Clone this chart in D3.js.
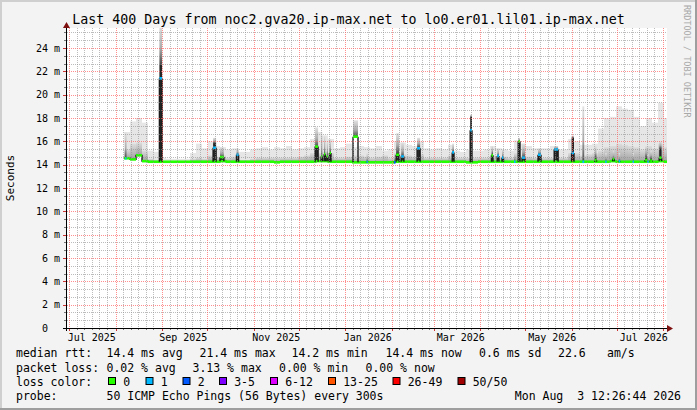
<!DOCTYPE html>
<html>
<head>
<meta charset="utf-8">
<script src="https://cdn.jsdelivr.net/npm/d3@7"></script>
<style>
  html, body { margin: 0; padding: 0; background: #f3f3f3; }
  svg { display: block; }
  text { font-family: "DejaVu Sans Mono", monospace; white-space: pre; }
</style>
</head>
<body>
<div id="chart"></div>
<script>
// ---- data ----
const periodStart = new Date(2025, 5, 29, 12, 26, 44);
const periodEnd = new Date(2026, 7, 3, 12, 26, 44);
const yMax = 25.714; // milliseconds

// regular samples: 4-day bins starting at day 38 of the period
const binStartDay = 38;
const binDays = 4;
const medianBase = [
  14.55, 14.45, 14.8, 14.3, 14.25, 14.25, 14.25, 14.25, 14.25, 14.25,
  14.25, 14.25, 14.25, 14.25, 14.25, 14.25, 14.3, 14.25, 14.25, 14.25,
  14.25, 14.25, 14.25, 14.25, 14.25, 14.2, 14.25, 14.25, 14.25, 14.25,
  14.25, 14.25, 14.3, 14.3, 14.25, 14.25, 14.25, 14.25, 14.2, 14.2,
  14.2, 14.2, 14.2, 14.2, 14.2, 14.25, 14.25, 14.25, 14.25, 14.25,
  14.25, 14.25, 14.25, 14.25, 14.25, 14.25, 14.25, 14.2, 14.2, 14.25,
  14.25, 14.25, 14.25, 14.25, 14.25, 14.25, 14.25, 14.25, 14.25, 14.25,
  14.25, 14.25, 14.25, 14.25, 14.25, 14.25, 14.25, 14.25, 14.25, 14.25,
  14.25, 14.3, 14.25, 14.25, 14.25, 14.25, 14.25, 14.25, 14.25, 14.3,
  14.25
];
const smokeTop = [
  16.8, 17.7, 18.0, 17.6, 15.2, 15.1, 14.6, 14.5, 14.5, 14.5,
  14.5, 15.0, 15.8, 15.4, 16.0, 15.6, 15.5, 15.3, 15.4, 15.1,
  15.1, 15.3, 15.4, 15.5, 15.3, 15.5, 15.4, 15.6, 15.3, 15.4,
  15.5, 16.2, 16.8, 16.5, 16.2, 15.4, 15.5, 15.8, 15.5, 15.6,
  15.5, 15.4, 15.6, 15.2, 15.3, 16.0, 15.9, 15.7, 15.6, 16.0,
  15.4, 15.3, 15.4, 15.3, 15.7, 15.2, 15.1, 15.3, 15.2, 15.2,
  15.3, 15.6, 15.4, 15.3, 15.2, 16.1, 15.8, 15.6, 15.4, 15.4,
  15.4, 15.6, 15.3, 15.3, 16.2, 16.0, 15.7, 15.7, 15.8, 17.1,
  18.0, 18.1, 19.0, 18.8, 18.7, 18.1, 17.3, 18.0, 17.6, 19.3,
  18.0
];
const smokeMid = [
  15.3, 15.8, 15.9, 15.2, 14.5, 14.4, 14.3, 14.3, 14.3, 14.3,
  14.3, 14.5, 14.6, 14.5, 14.8, 14.7, 14.8, 14.6, 14.7, 14.4,
  14.4, 14.5, 14.6, 14.6, 14.6, 14.6, 14.6, 14.6, 14.6, 14.7,
  14.8, 15.0, 15.0, 15.1, 15.0, 14.6, 14.6, 14.7, 14.8, 14.8,
  14.7, 14.6, 14.7, 14.8, 14.6, 15.0, 14.9, 14.8, 14.7, 14.9,
  14.6, 14.6, 14.6, 14.6, 14.8, 14.6, 14.6, 14.6, 14.6, 14.6,
  14.6, 14.8, 14.7, 14.7, 14.6, 15.0, 14.8, 14.7, 14.6, 14.6,
  14.6, 14.6, 14.6, 14.6, 15.0, 15.0, 14.8, 14.9, 15.0, 15.2,
  15.5, 15.6, 15.8, 15.7, 15.6, 15.5, 15.3, 15.6, 15.4, 15.8,
  15.5
];

// short events (day offsets from period start)
const spikeFrom = [38.7, 61.6, 97.4, 102.0, 113.0, 165.4, 169.4, 171.4, 173.2, 175.0,
  190.7, 199.7, 218.0, 219.4, 222.8, 233.4, 256.8, 268.8, 283.0, 286.8,
  290.0, 298.0, 300.8, 303.4, 314.0, 324.8, 336.4, 343.6, 351.8, 358.8,
  363.8, 367.8, 377.0, 385.4, 386.8, 388.8, 394.8];
const spikeTo = [39.7, 63.4, 99.4, 104.6, 114.4, 167.4, 170.2, 172.2, 174.0, 176.0,
  194.0, 200.5, 219.0, 221.4, 224.6, 235.4, 258.0, 270.0, 284.0, 288.0,
  291.0, 299.0, 302.0, 305.4, 316.0, 327.4, 338.0, 344.8, 353.0, 359.8,
  364.8, 368.8, 378.0, 386.8, 387.8, 390.0, 396.4];
const spikeMedian = [14.55, 21.4, 15.45, 14.65, 14.85, 15.55, 14.7, 14.9, 14.7, 15.0,
  16.4, 14.25, 14.2, 14.85, 14.7, 15.4, 15.05, 16.95, 14.8, 14.75,
  14.6, 14.25, 16.0, 14.6, 14.85, 15.3, 15.0, 14.25, 14.4, 14.25,
  14.5, 14.3, 14.25, 14.4, 14.25, 14.35, 14.6];
const spikeLoss = [1, 1, 1, 0, 1, 0, 0, 0, 0, 0,
  0, 1, 2, 0, 1, 1, 1, 1, 0, 1,
  1, 1, 0, 1, 1, 1, 1, 1, 0, 1,
  0, 1, 1, 0, 1, 0, 0];
const spikeDark = [14.55, 22.6, 15.85, 14.65, 14.85, 15.55, 14.7, 14.9, 14.7, 15.0,
  14.25, 14.25, 14.2, 15.0, 14.7, 15.5, 15.1, 18.1, 14.9, 14.75,
  14.6, 14.25, 16.05, 14.6, 14.85, 15.35, 16.3, 14.25, 14.6, 14.25,
  14.5, 14.3, 14.25, 14.6, 14.25, 14.5, 15.4];
const spikeTop = [16.8, 26.0, 16.3, 15.5, 15.4, 17.2, 16.8, 16.5, 16.0, 16.2,
  17.8, 15.0, 15.0, 16.7, 15.9, 16.3, 15.8, 18.3, 15.6, 15.4,
  15.3, 15.0, 16.3, 15.8, 15.4, 15.6, 16.5, 19.0, 15.6, 15.0,
  15.2, 15.0, 15.0, 15.6, 14.9, 15.2, 16.0];

const monthLabels = ["Jul 2025", "Sep 2025", "Nov 2025", "Jan 2026", "Mar 2026", "May 2026", "Jul 2026"];
const monthLabelAt = ["2025-07-16", "2025-09-15", "2025-11-16", "2026-01-16", "2026-03-19", "2026-05-19", "2026-07-19"];
const yTicks = [0, 2, 4, 6, 8, 10, 12, 14, 16, 18, 20, 22, 24];
const yTickLabels = ["0  ", "2 m", "4 m", "6 m", "8 m", "10 m", "12 m", "14 m", "16 m", "18 m", "20 m", "22 m", "24 m"];

const lossLabels = ["0", "1", "2", "3-5", "6-12", "13-25", "26-49", "50/50"];
const lossColors = ["#26ff00", "#00b8ff", "#0059ff", "#7e00ff", "#dd00ff", "#ff5500", "#ff0000", "#a10000"];

const rttValues = ["14.4 ms avg", "21.4 ms max", "14.2 ms min", "14.4 ms now", "0.6 ms sd", "22.6", "am/s"];
const lossValues = ["0.02 % avg", "3.13 % max", "0.00 % min", "0.00 % now"];
const probeText = "50 ICMP Echo Pings (56 Bytes) every 300s";
const stampText = "Mon Aug  3 12:26:44 2026";
const titleText = "Last 400 Days from noc2.gva20.ip-max.net to lo0.er01.lil01.ip-max.net";

// ---- layout ----
const W = 697, H = 410;
const plot = { left: 67, right: 667, top: 28, bottom: 328 };
const rttX = [106.5, 199.5, 291.5, 385.5, 479, 558, 607];
const lossX = [106.5, 192.5, 279, 365.5];
const boxX = [108, 145.5, 182.5, 219, 270, 328, 392.5, 457.5];

const DAY = 864e5;
const at = d => new Date(periodStart.getTime() + d * DAY);

const x = d3.scaleTime().domain([periodStart, periodEnd]).range([plot.left, plot.right]);
const y = d3.scaleLinear().domain([0, yMax]).range([plot.bottom, plot.top]);

const svg = d3.select("#chart").append("svg")
  .attr("width", W)
  .attr("height", H);

// background and 3d frame
svg.append("rect").attr("width", W).attr("height", H).attr("fill", "#f3f3f3");
svg.append("rect").attr("x", 0).attr("y", 0).attr("width", W).attr("height", 2).attr("fill", "#cfcfcf");
svg.append("rect").attr("x", 0).attr("y", 0).attr("width", 2).attr("height", H).attr("fill", "#cfcfcf");
svg.append("rect").attr("x", 0).attr("y", H - 2).attr("width", W).attr("height", 2).attr("fill", "#9e9e9e");
svg.append("rect").attr("x", W - 2).attr("y", 0).attr("width", 2).attr("height", H).attr("fill", "#9e9e9e");

svg.append("rect")
  .attr("x", plot.left).attr("y", plot.top)
  .attr("width", plot.right - plot.left).attr("height", plot.bottom - plot.top)
  .attr("fill", "#ffffff");

const defs = svg.append("defs");
defs.append("clipPath").attr("id", "plotClip").append("rect")
  .attr("x", plot.left).attr("y", plot.top)
  .attr("width", plot.right - plot.left).attr("height", plot.bottom - plot.top);

const midGrad = defs.append("linearGradient").attr("id", "midGrad")
  .attr("x1", 0).attr("y1", 1).attr("x2", 0).attr("y2", 0);
midGrad.append("stop").attr("offset", 0).attr("stop-color", "#a2a2a2");
midGrad.append("stop").attr("offset", 1).attr("stop-color", "#dcdcdc");

const spikeGrad = defs.append("linearGradient").attr("id", "spikeGrad")
  .attr("x1", 0).attr("y1", 1).attr("x2", 0).attr("y2", 0);
spikeGrad.append("stop").attr("offset", 0).attr("stop-color", "#4a4a4a");
spikeGrad.append("stop").attr("offset", 0.4).attr("stop-color", "#aaaaaa");
spikeGrad.append("stop").attr("offset", 1).attr("stop-color", "#e2e2e2");

const bins = medianBase.map((m, i) => ({
  from: at(binStartDay + i * binDays),
  to: at(binStartDay + (i + 1) * binDays),
  median: m,
  top: smokeTop[i],
  mid: smokeMid[i]
}));

const baseAt = d => medianBase[Math.max(0, Math.min(medianBase.length - 1, Math.floor((d - binStartDay) / binDays)))];

const spikes = spikeFrom.map((f, i) => ({
  from: at(f),
  to: at(spikeTo[i]),
  base: baseAt(f),
  median: spikeMedian[i],
  loss: spikeLoss[i],
  dark: spikeDark[i],
  top: spikeTop[i]
}));

const data = svg.append("g").attr("clip-path", "url(#plotClip)");

// smoke of the regular bins
data.append("g").selectAll("rect")
  .data(bins)
  .enter()
  .append("rect")
  .attr("x", d => x(d.from))
  .attr("width", d => x(d.to) - x(d.from))
  .attr("y", d => y(d.top))
  .attr("height", d => Math.max(0, y(d.median) - y(d.top)))
  .attr("fill", "#e6e6e6");

data.append("g").selectAll("rect")
  .data(bins)
  .enter()
  .append("rect")
  .attr("x", d => x(d.from))
  .attr("width", d => x(d.to) - x(d.from))
  .attr("y", d => y(d.mid))
  .attr("height", d => Math.max(0, y(d.median) - y(d.mid)))
  .attr("fill", "url(#midGrad)");

// smoke of the short events
data.append("g").selectAll("rect")
  .data(spikes.filter(d => d.top > Math.max(d.median, d.dark)))
  .enter()
  .append("rect")
  .attr("x", d => x(d.from))
  .attr("width", d => x(d.to) - x(d.from))
  .attr("y", d => y(d.top))
  .attr("height", d => y(Math.max(d.median, d.dark)) - y(d.top))
  .attr("fill", "url(#spikeGrad)");

// grid, drawn over the smoke
const grid = svg.append("g").attr("shape-rendering", "crispEdges");
const minorDays = d3.timeDay.range(periodStart, periodEnd).filter(d => [6, 11, 16, 21, 26].includes(d.getDate()));
const months = d3.timeMonth.range(periodStart, periodEnd);
const minorVals = d3.range(1, 40).filter(k => k % 3 !== 0).map(k => k * 2 / 3).filter(v => v < yMax);
const majorVals = yTicks.filter(v => v > 0);

grid.selectAll(".vminor").data(minorDays).enter().append("line")
  .attr("x1", d => Math.round(x(d)) + 0.5).attr("x2", d => Math.round(x(d)) + 0.5)
  .attr("y1", plot.top).attr("y2", plot.bottom)
  .attr("stroke", "#8f8f8f").attr("stroke-opacity", 0.6).attr("stroke-dasharray", "1,1");
grid.selectAll(".hminor").data(minorVals).enter().append("line")
  .attr("x1", plot.left).attr("x2", plot.right)
  .attr("y1", d => Math.round(y(d)) + 0.5).attr("y2", d => Math.round(y(d)) + 0.5)
  .attr("stroke", "#8f8f8f").attr("stroke-opacity", 0.6).attr("stroke-dasharray", "1,1");
grid.selectAll(".vmajor").data(months).enter().append("line")
  .attr("x1", d => Math.round(x(d)) + 0.5).attr("x2", d => Math.round(x(d)) + 0.5)
  .attr("y1", plot.top).attr("y2", plot.bottom)
  .attr("stroke", "#ff5f5f").attr("stroke-opacity", 0.7).attr("stroke-dasharray", "1,1");
grid.selectAll(".hmajor").data(majorVals).enter().append("line")
  .attr("x1", plot.left).attr("x2", plot.right)
  .attr("y1", d => Math.round(y(d)) + 0.5).attr("y2", d => Math.round(y(d)) + 0.5)
  .attr("stroke", "#ff5f5f").attr("stroke-opacity", 0.7).attr("stroke-dasharray", "1,1");

// dark smoke of the short events
data.append("g").selectAll("rect")
  .data(spikes.filter(d => d.dark > d.base))
  .enter()
  .append("rect")
  .attr("x", d => x(d.from))
  .attr("width", d => x(d.to) - x(d.from))
  .attr("y", d => y(d.dark))
  .attr("height", d => y(d.base) - y(d.dark))
  .attr("fill", "#262626");

// median: dark steps, then loss coloured segments
const stepPts = bins.map(d => [d.from, d.median]).concat([[bins[bins.length - 1].to, bins[bins.length - 1].median]]);
data.append("path")
  .attr("d", d3.line().x(d => x(d[0])).y(d => y(d[1])).curve(d3.curveStepAfter)(stepPts))
  .attr("fill", "none")
  .attr("stroke", "#1a1a1a")
  .attr("stroke-width", 1.4);

data.append("g").selectAll("line")
  .data(bins)
  .enter()
  .append("line")
  .attr("x1", d => x(d.from)).attr("x2", d => x(d.to))
  .attr("y1", d => y(d.median)).attr("y2", d => y(d.median))
  .attr("stroke", lossColors[0])
  .attr("stroke-width", 2.6);

const spikeG = data.append("g");
spikes.forEach(d => {
  [d.from, d.to].forEach(t => {
    spikeG.append("line")
      .attr("x1", x(t)).attr("x2", x(t))
      .attr("y1", y(d.base)).attr("y2", y(d.median))
      .attr("stroke", "#1a1a1a").attr("stroke-width", 1.4);
  });
});
spikeG.selectAll(".seg").data(spikes).enter().append("line")
  .attr("x1", d => x(d.from)).attr("x2", d => x(d.to))
  .attr("y1", d => y(d.median)).attr("y2", d => y(d.median))
  .attr("stroke", d => lossColors[d.loss])
  .attr("stroke-width", 2.6);

// axes
const axes = svg.append("g").attr("shape-rendering", "crispEdges");
axes.selectAll(".xtm").data(minorDays).enter().append("line")
  .attr("x1", d => Math.round(x(d)) + 0.5).attr("x2", d => Math.round(x(d)) + 0.5)
  .attr("y1", plot.bottom).attr("y2", plot.bottom + 2).attr("stroke", "#777");
axes.selectAll(".xtM").data(months).enter().append("line")
  .attr("x1", d => Math.round(x(d)) + 0.5).attr("x2", d => Math.round(x(d)) + 0.5)
  .attr("y1", plot.bottom).attr("y2", plot.bottom + 3).attr("stroke", "#c33");
axes.selectAll(".ytm").data(minorVals).enter().append("line")
  .attr("x1", plot.left - 3).attr("x2", plot.left)
  .attr("y1", d => Math.round(y(d)) + 0.5).attr("y2", d => Math.round(y(d)) + 0.5).attr("stroke", "#777");
axes.selectAll(".ytM").data(majorVals).enter().append("line")
  .attr("x1", plot.left - 4).attr("x2", plot.left)
  .attr("y1", d => Math.round(y(d)) + 0.5).attr("y2", d => Math.round(y(d)) + 0.5).attr("stroke", "#c33");

axes.append("line")
  .attr("x1", plot.left - 4).attr("x2", plot.right + 1)
  .attr("y1", plot.bottom + 0.5).attr("y2", plot.bottom + 0.5)
  .attr("stroke", "#000");
axes.append("line")
  .attr("x1", plot.left - 0.5).attr("x2", plot.left - 0.5)
  .attr("y1", plot.bottom + 3).attr("y2", plot.top - 1)
  .attr("stroke", "#000");
svg.append("path")
  .attr("d", `M${plot.right},${plot.bottom - 3} L${plot.right + 6},${plot.bottom + 0.5} L${plot.right},${plot.bottom + 4} Z`)
  .attr("fill", "#7f1010");
svg.append("path")
  .attr("d", `M${plot.left - 4},${plot.top} L${plot.left - 0.5},${plot.top - 6} L${plot.left + 3},${plot.top} Z`)
  .attr("fill", "#7f1010");

svg.append("g").selectAll("text")
  .data(monthLabels)
  .enter()
  .append("text")
  .attr("x", (d, i) => x(d3.timeParse("%Y-%m-%d")(monthLabelAt[i])))
  .attr("y", 340.5)
  .attr("text-anchor", "middle")
  .attr("font-size", "10px")
  .text(d => d);

svg.append("g").selectAll("text")
  .data(yTicks)
  .enter()
  .append("text")
  .attr("x", 60)
  .attr("y", d => y(d) + 3.6)
  .attr("text-anchor", "end")
  .attr("font-size", "10px")
  .attr("xml:space", "preserve")
  .text((d, i) => yTickLabels[i]);

// titles
svg.append("text")
  .attr("x", W / 2).attr("y", 24)
  .attr("text-anchor", "middle")
  .attr("font-size", "13.3px")
  .text(titleText);

svg.append("text")
  .attr("transform", `translate(14,${(plot.top + plot.bottom) / 2}) rotate(-90)`)
  .attr("text-anchor", "middle")
  .attr("font-size", "11px")
  .text("Seconds");

svg.append("text")
  .attr("transform", "translate(684,5) rotate(90)")
  .attr("font-size", "8.5px")
  .attr("fill", "#a8a8a8")
  .text("RRDTOOL / TOBI OETIKER");

// legend
const legend = svg.append("g").attr("font-size", "11.5px");
legend.append("text").attr("x", 16).attr("y", 357.3).text("median rtt:");
legend.selectAll(".rtt").data(rttValues).enter().append("text")
  .attr("x", (d, i) => rttX[i]).attr("y", 357.3).text(d => d);
legend.append("text").attr("x", 16).attr("y", 371.7).text("packet loss:");
legend.selectAll(".loss").data(lossValues).enter().append("text")
  .attr("x", (d, i) => lossX[i]).attr("y", 371.7).text(d => d);
legend.append("text").attr("x", 16).attr("y", 385.5).text("loss color:");
legend.selectAll(".box").data(lossColors).enter().append("rect")
  .attr("x", (d, i) => boxX[i] + 0.5).attr("y", 377.5)
  .attr("width", 7).attr("height", 7)
  .attr("fill", d => d).attr("stroke", "#000").attr("stroke-width", 1);
legend.selectAll(".lbl").data(lossLabels).enter().append("text")
  .attr("x", (d, i) => boxX[i] + 15.2).attr("y", 385.5).text(d => d);
legend.append("text").attr("x", 16).attr("y", 400).text("probe:");
legend.append("text").attr("x", 106.5).attr("y", 400).text(probeText);
legend.append("text").attr("x", 681).attr("y", 400).attr("text-anchor", "end")
  .attr("xml:space", "preserve").text(stampText);
</script>
</body>
</html>
